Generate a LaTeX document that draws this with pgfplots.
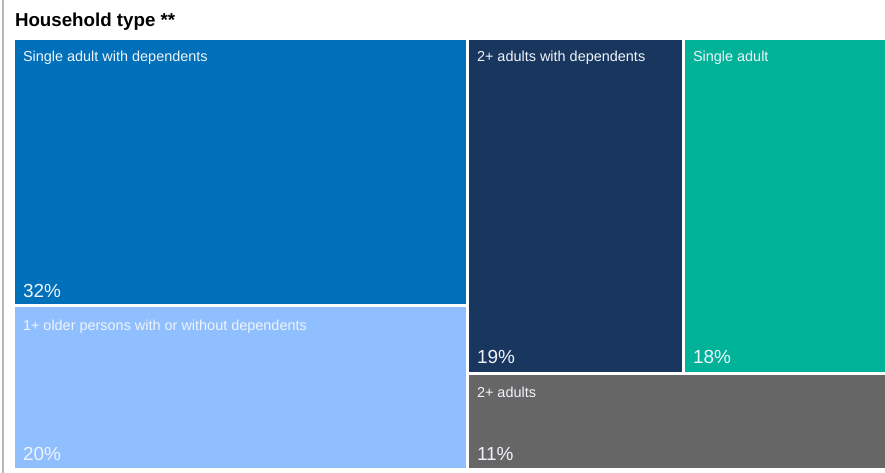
\documentclass[border=0pt]{standalone}
\usepackage{pgfplots}
\pgfplotsset{compat=1.18}
\usepackage{fontspec}
\setmainfont{Liberation Sans}
\definecolor{cA}{HTML}{0070BA}
\definecolor{cB}{HTML}{8FBFFF}
\definecolor{cC}{HTML}{18365E}
\definecolor{cD}{HTML}{00B398}
\definecolor{cE}{HTML}{666666}
\definecolor{txt}{HTML}{F0F4FA}
\tikzset{lbl/.style={inner sep=0pt, outer sep=0pt, anchor=base west, text=txt}}
\begin{document}
\begin{tikzpicture}
\begin{axis}[
  scale only axis, width=885bp, height=473bp,
  xmin=0, xmax=885, ymin=0, ymax=473, y dir=reverse,
  hide axis, clip=false,
]
% left rule
\addplot[draw=black!28, line width=1.2bp] coordinates {(3,0) (3,473)};
% Single adult with dependents 32%
\addplot[fill=cA, draw=none] coordinates {(15,40) (466,40) (466,304) (15,304)} --cycle;
% 1+ older persons 20%
\addplot[fill=cB, draw=none] coordinates {(15,307) (466,307) (466,468) (15,468)} --cycle;
% 2+ adults with dependents 19%
\addplot[fill=cC, draw=none] coordinates {(469,40) (682,40) (682,372) (469,372)} --cycle;
% Single adult 18%
\addplot[fill=cD, draw=none] coordinates {(685,40) (885,40) (885,372) (685,372)} --cycle;
% 2+ adults 11%
\addplot[fill=cE, draw=none] coordinates {(469,375) (885,375) (885,468) (469,468)} --cycle;

\node[inner sep=0pt, outer sep=0pt, anchor=base west, font=\fontsize{18.8}{21}\selectfont\bfseries] at (axis cs:15,26.5) {Household type **};

\node[lbl, font=\fontsize{14.5}{16}\selectfont] at (axis cs:23,62) {Single adult with dependents};
\node[lbl, font=\fontsize{14.5}{16}\selectfont] at (axis cs:23,330) {1+ older persons with or without dependents};
\node[lbl, font=\fontsize{14.5}{16}\selectfont] at (axis cs:477,62) {2+ adults with dependents};
\node[lbl, font=\fontsize{14.5}{16}\selectfont] at (axis cs:693,62) {Single adult};
\node[lbl, font=\fontsize{14.5}{16}\selectfont] at (axis cs:477,397) {2+ adults};
\node[lbl, font=\fontsize{19}{22}\selectfont] at (axis cs:23,297) {32\%};
\node[lbl, font=\fontsize{19}{22}\selectfont] at (axis cs:23,460) {20\%};
\node[lbl, font=\fontsize{19}{22}\selectfont] at (axis cs:477,363) {19\%};
\node[lbl, font=\fontsize{19}{22}\selectfont] at (axis cs:693,363) {18\%};
\node[lbl, font=\fontsize{19}{22}\selectfont] at (axis cs:477,460) {11\%};
\end{axis}
\pgfresetboundingbox
\path (current axis.south west) rectangle (current axis.north east);
\end{tikzpicture}
\end{document}
